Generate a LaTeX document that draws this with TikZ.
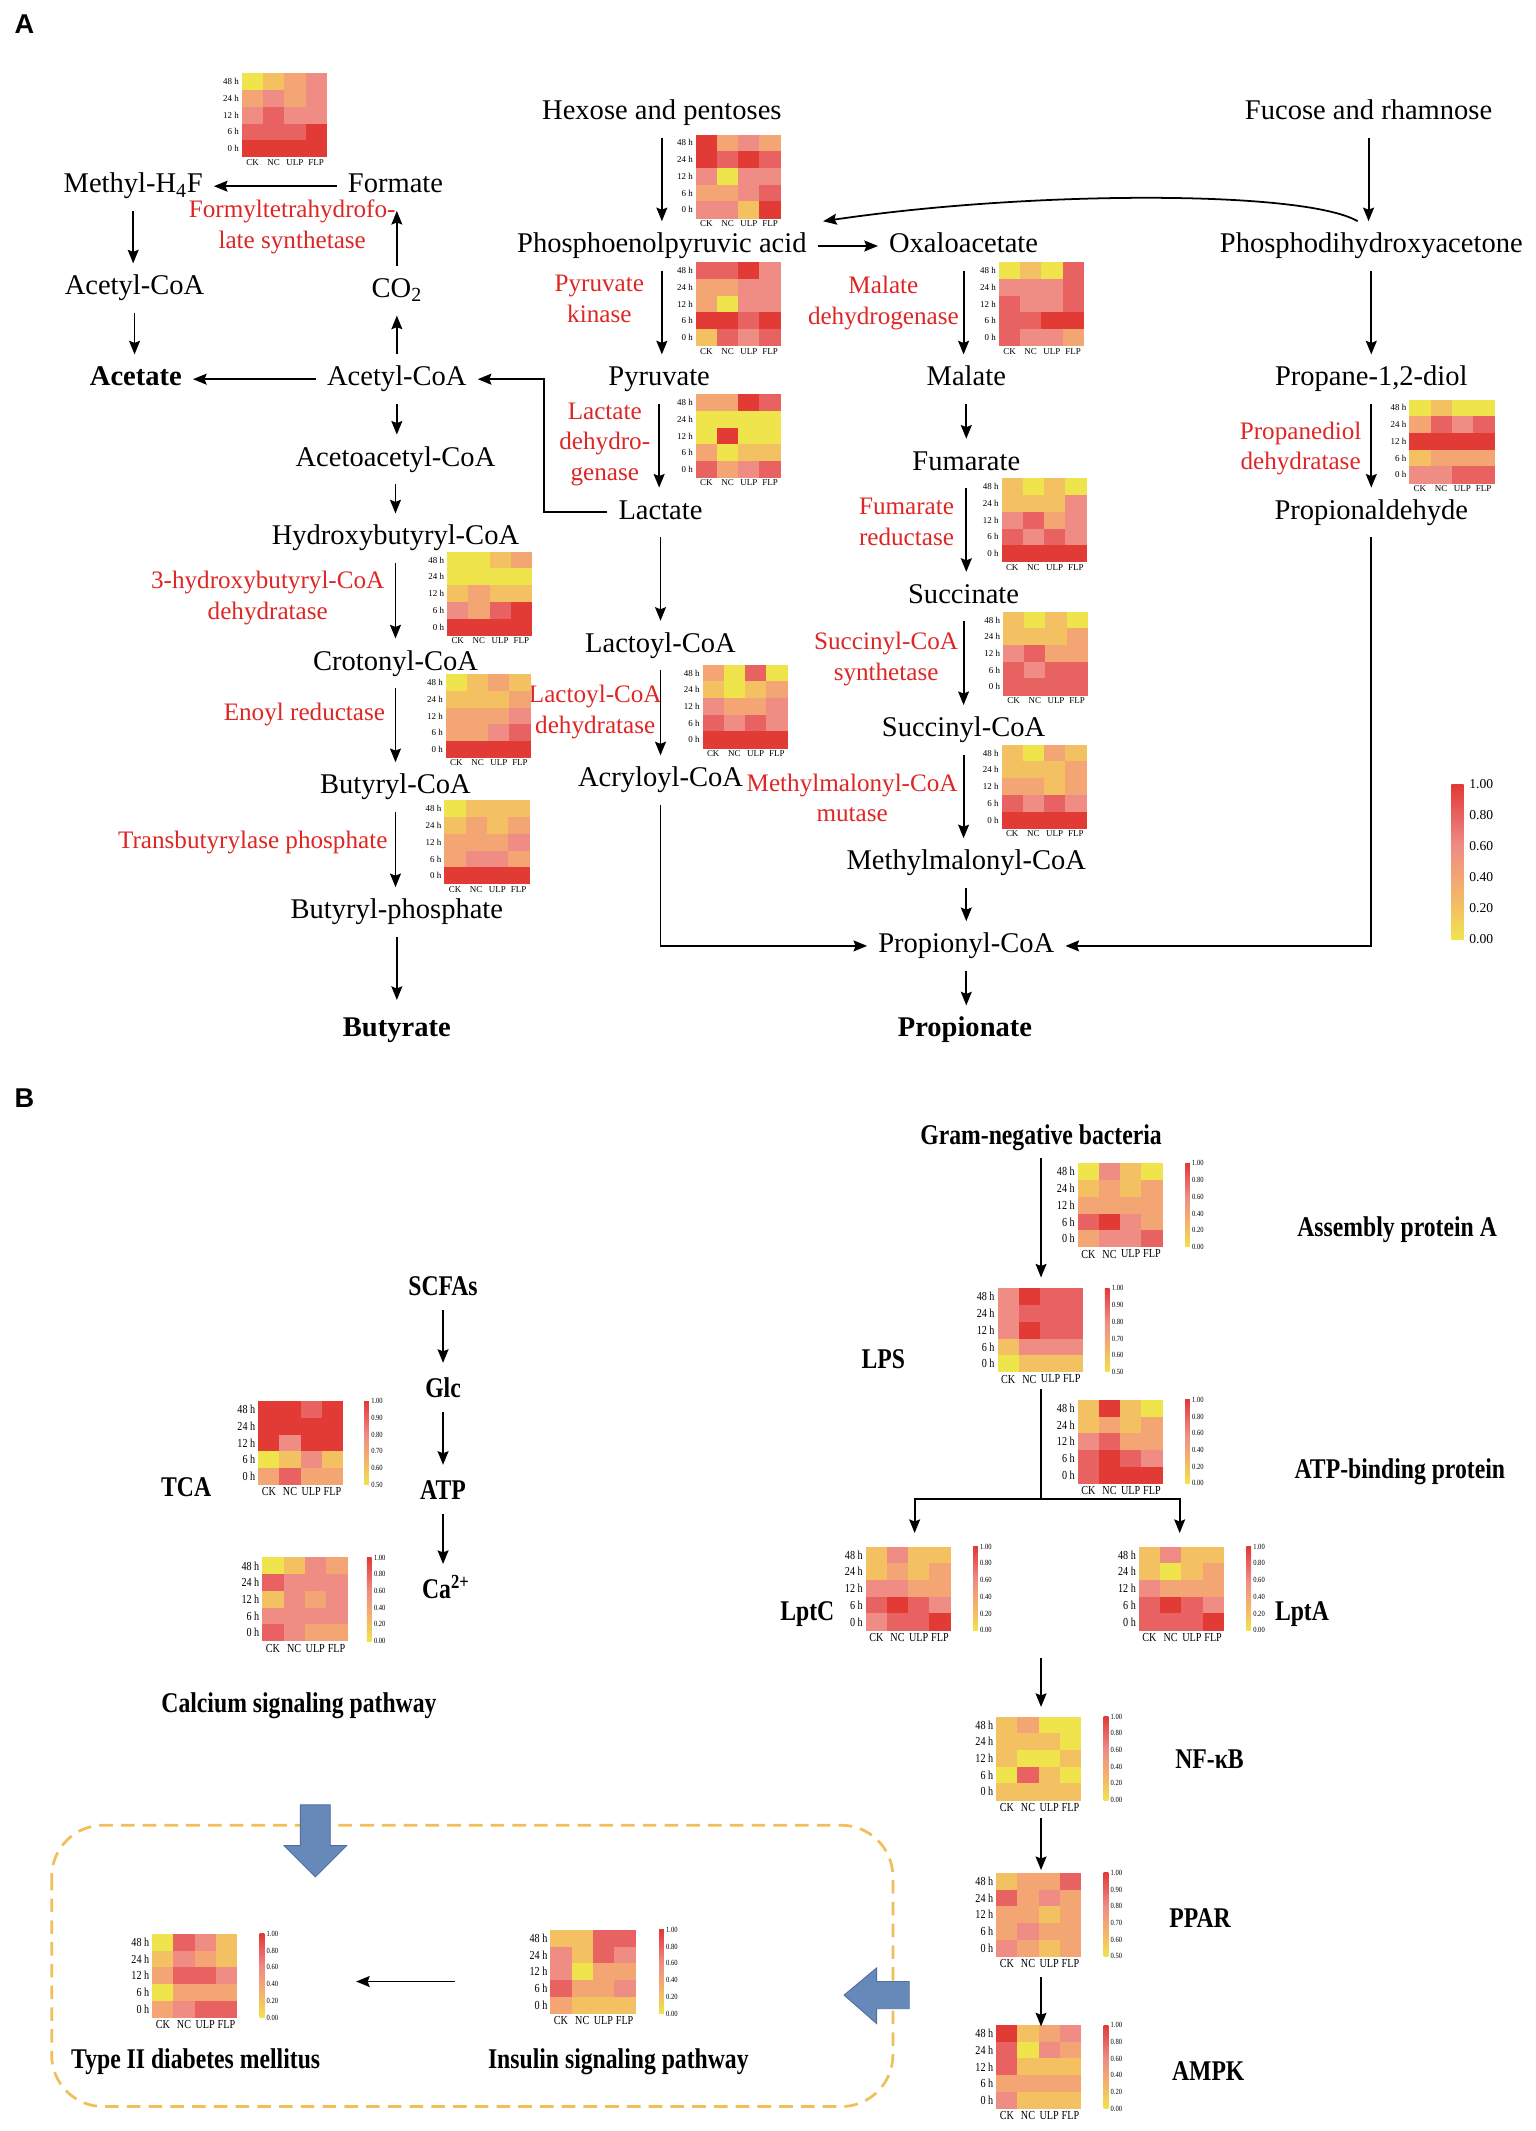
\documentclass[tikz,border=0pt]{standalone}
\usepackage{fontspec}
\setmainfont{Liberation Serif}
\newfontfamily\condfont[FakeStretch=0.83]{Liberation Serif}
\newfontfamily\labsans{Liberation Sans}
\usetikzlibrary{arrows.meta}

\definecolor{hm0}{RGB}{240,228,76}
\definecolor{hm1}{RGB}{243,193,98}
\definecolor{hm2}{RGB}{243,165,115}
\definecolor{hm3}{RGB}{239,140,132}
\definecolor{hm4}{RGB}{232,98,98}
\definecolor{hm5}{RGB}{226,58,52}
\definecolor{enzred}{RGB}{222,38,36}
\definecolor{boxorange}{RGB}{242,190,90}
\definecolor{blockblue}{RGB}{103,137,186}
\definecolor{blockedge}{RGB}{80,110,158}

\pgfdeclareverticalshading{heat}{100bp}{color(0bp)=(hm0); color(25bp)=(hm0); color(35bp)=(hm1); color(45bp)=(hm2); color(55bp)=(hm3); color(65bp)=(hm4); color(75bp)=(hm5); color(100bp)=(hm5)}

\newcommand{\hmw}{15.6}
\newcommand{\hmh}{12.3}

\newcommand{\heatmap}[4]{%
  \foreach \row [count=\r] in {#4} {
    \foreach \v [count=\c] in \row
      \fill[hm\v] ({#2+(\c-1)*\hmw},{#3+(\r-1)*\hmh}) rectangle +(\hmw+0.3,\hmh+0.3);
  }
  \foreach \t [count=\r] in {48 h,24 h,12 h,6 h,0 h}
    \node[rowlab] (#1-r\r) at ({#2-1},{#3+(\r-0.5)*\hmh}) {\t};
  \foreach \t [count=\c] in {CK,NC,ULP,FLP}
    \node[collab] (#1-c\c) at ({#2+(\c-0.5)*\hmw},{#3+5*\hmh}) {\t};
}

\newcommand{\cbar}[4]{%
  \shade[shading=heat] (#2,#3) rectangle ++(3.5,5*\hmh);
  \foreach \t [count=\i from 0] in {#4}
    \node[cblab] (#1-l\i) at ({#2+4.5},{#3+\i*\hmh}) {\t};
}

\tikzset{
  met/.style={font=\fontsize{21}{25}\selectfont, inner sep=2pt, text height=15pt, text depth=5pt, yshift=-2pt},
  prod/.style={met, font=\fontsize{21}{25}\selectfont\bfseries},
  enz/.style={text=enzred, font=\fontsize{18.5}{22.5}\selectfont, align=center, inner sep=1pt, yshift=-2pt},
  blab/.style={font=\condfont\fontsize{21}{25}\selectfont\bfseries, inner sep=2pt, text height=15pt, text depth=5pt, yshift=-2pt},
  arr/.style={-{Stealth[length=10pt,width=8pt,inset=1.5pt]}, line width=1.4pt, shorten <=6pt, shorten >=6pt},
  link/.style={-{Stealth[length=10pt,width=8pt,inset=1.5pt]}, line width=1.3pt},
  rowlab/.style={font=\fontsize{6.6}{7}\selectfont, anchor=east, inner sep=1pt},
  collab/.style={font=\fontsize{6.6}{7}\selectfont, anchor=north, inner sep=1.5pt},
  cblab/.style={font=\condfont\fontsize{5.8}{6}\selectfont, anchor=west, inner sep=0.5pt},
}

\begin{document}
\begin{tikzpicture}[x=1pt, y=-1pt]
\useasboundingbox (0,0) rectangle (1130,1568);

\node[font=\labsans\bfseries\fontsize{20}{24}\selectfont] (panelA) at (18,18) {A};
\node[font=\labsans\bfseries\fontsize{20}{24}\selectfont] (panelB) at (18,808) {B};

% panel A: acetate and butyrate
\node[met] (mthf) at (98,135) {Methyl-H\textsubscript{4}F};
\node[met] (form) at (291,135) {Formate};
\node[met] (acoa1) at (99,210) {Acetyl-CoA};
\node[met] (co2) at (292,212) {CO\textsubscript{2}};
\node[prod] (acet) at (100,277) {Acetate};
\node[met] (acoa) at (292,277) {Acetyl-CoA};
\node[met] (aacoa) at (291,336) {Acetoacetyl-CoA};
\node[met] (hbcoa) at (291,394) {Hydroxybutyryl-CoA};
\node[met] (ccoa) at (291,486) {Crotonyl-CoA};
\node[met] (bcoa) at (291,577) {Butyryl-CoA};
\node[met] (bp) at (292,669) {Butyryl-phosphate};
\node[prod] (butyr) at (292,756) {Butyrate};

\node[enz] (e-fts) at (215,165) {Formyltetrahydrofo-\\late synthetase};
\node[enz] (e-hbd) at (197,438) {3-hydroxybutyryl-CoA\\dehydratase};
\node[enz] (e-er) at (224,524) {Enoyl reductase};
\node[enz] (e-tbp) at (186,618) {Transbutyrylase phosphate};

\draw[arr] (form) -- (mthf);
\draw[arr] (mthf) -- (mthf |- acoa1.north);
\draw[arr] (acoa1) -- (acoa1 |- acet.north);
\draw[arr] (co2) -- (co2 |- form.south);
\draw[arr] (acoa) -- (acoa |- co2.south);
\draw[arr] (acoa) -- (acet);
\draw[arr] (acoa) -- (acoa |- aacoa.north);
\draw[arr] (aacoa) -- (aacoa |- hbcoa.north);
\draw[arr] (hbcoa) -- (hbcoa |- ccoa.north);
\draw[arr] (ccoa) -- (ccoa |- bcoa.north);
\draw[arr] (bcoa) -- (bcoa |- bp.north);
\draw[arr, shorten >=10pt] (bp) -- (bp |- butyr.north);

% panel A: propionate
\node[met] (hex) at (487,81) {Hexose and pentoses};
\node[met] (pep) at (487,179) {Phosphoenolpyruvic acid};
\node[met] (oxa) at (709,179) {Oxaloacetate};
\node[met] (pyr) at (485,277) {Pyruvate};
\node[met] (lac) at (486,375) {Lactate};
\node[met] (lcoa) at (486,473) {Lactoyl-CoA};
\node[met] (acry) at (486,572) {Acryloyl-CoA};
\node[met] (mal) at (711,277) {Malate};
\node[met] (fum) at (711,339) {Fumarate};
\node[met] (suc) at (709,437) {Succinate};
\node[met] (scoa) at (709,535) {Succinyl-CoA};
\node[met] (mmcoa) at (711,633) {Methylmalonyl-CoA};
\node[met] (pcoa) at (711,694) {Propionyl-CoA};
\node[prod] (propn) at (710,756) {Propionate};
\node[met] (fuc) at (1007,81) {Fucose and rhamnose};
\node[met] (phd) at (1009,179) {Phosphodihydroxyacetone};
\node[met] (pdiol) at (1009,277) {Propane-1,2-diol};
\node[met] (pald) at (1009,375) {Propionaldehyde};

\node[enz] (e-pk) at (441,218) {Pyruvate\\kinase};
\node[enz] (e-ldh) at (445,325) {Lactate\\dehydro-\\genase};
\node[enz] (e-lcd) at (438,522) {Lactoyl-CoA\\dehydratase};
\node[enz] (e-mdh) at (650,221) {Malate\\dehydrogenase};
\node[enz] (e-fr) at (667,382) {Fumarate\\reductase};
\node[enz] (e-scs) at (652,483) {Succinyl-CoA\\synthetase};
\node[enz] (e-mcm) at (627,585) {Methylmalonyl-CoA\\mutase};
\node[enz] (e-pdd) at (957,328) {Propanediol\\dehydratase};

\coordinate (lbend) at (400,377);
\draw[arr] (hex) -- (hex |- pep.north);
\draw[arr] (pep) -- (pep |- pyr.north);
\draw[arr] (pyr) -- (pyr |- lac.north);
\draw[arr] (lac) -- (lac |- lcoa.north);
\draw[arr] (lcoa) -- (lcoa |- acry.north);
\draw[arr] (pep) -- (oxa);
\draw[arr] (oxa) -- (oxa |- mal.north);
\draw[arr] (mal) -- (mal |- fum.north);
\draw[arr] (fum) -- (fum |- suc.north);
\draw[arr] (suc) -- (suc |- scoa.north);
\draw[arr] (scoa) -- (scoa |- mmcoa.north);
\draw[arr] (mmcoa) -- (mmcoa |- pcoa.north);
\draw[arr] (pcoa) -- (pcoa |- propn.north);
\draw[arr] (fuc) -- (fuc |- phd.north);
\draw[arr] (phd) -- (phd |- pdiol.north);
\draw[arr] (pdiol) -- (pdiol |- pald.north);
\draw[arr] (lac.west) -- (lbend) |- (acoa.east);
\draw[arr] (acry.south) |- (pcoa.west);
\draw[arr] (pald.south) |- (pcoa.east);
\draw[link] ([xshift=-10pt,yshift=6pt]phd.north) .. controls (960,140) and (760,140) .. ([xshift=10pt,yshift=6pt]pep.north east);

\heatmap{fts}{178}{54}{{0,1,2,3},{2,3,2,3},{3,4,3,3},{4,4,4,5},{5,5,5,5}}
\heatmap{hbd}{329}{406}{{0,0,1,2},{0,0,0,0},{1,2,1,1},{3,2,4,5},{5,5,5,5}}
\heatmap{er}{328}{496}{{0,1,2,1},{1,1,1,2},{2,2,2,3},{2,2,3,4},{5,5,5,5}}
\heatmap{tbp}{327}{589}{{0,1,1,1},{1,2,1,2},{2,2,2,3},{2,3,3,2},{5,5,5,5}}
\heatmap{hexp}{512}{99}{{5,2,3,2},{5,4,5,4},{3,0,3,3},{2,2,3,4},{3,3,1,5}}
\heatmap{pk}{512}{193}{{4,4,5,3},{2,2,3,3},{2,0,3,3},{5,5,4,5},{1,4,3,4}}
\heatmap{ldh}{512}{290}{{2,2,5,4},{0,0,0,0},{0,5,0,0},{2,0,1,1},{4,2,3,4}}
\heatmap{lcd}{517}{489}{{2,0,4,0},{1,0,1,2},{3,2,2,3},{4,3,4,3},{5,5,5,5}}
\heatmap{mdh}{735}{193}{{0,1,0,4},{3,3,3,4},{4,3,3,4},{4,4,5,5},{4,3,3,2}}
\heatmap{fr}{737}{352}{{1,0,1,0},{1,1,1,3},{3,4,2,3},{4,3,4,3},{5,5,5,5}}
\heatmap{scs}{738}{450}{{1,0,1,0},{1,1,1,2},{3,4,2,2},{4,3,4,4},{4,4,4,4}}
\heatmap{mcm}{737}{548}{{1,0,2,1},{1,1,1,2},{2,2,1,2},{4,3,4,3},{5,5,5,5}}
\heatmap{pdd}{1037}{294}{{0,1,0,0},{2,4,3,4},{5,5,5,5},{1,2,2,2},{3,3,4,4}}

\shade[shading=heat] (1068,577) rectangle (1077,691);
\foreach \t [count=\i from 0] in {1.00,0.80,0.60,0.40,0.20,0.00}
  \node[font=\fontsize{10}{12}\selectfont, anchor=west, inner sep=1pt] (scale-\i) at (1080,{577+\i*22.8}) {\t};

% panel B
\node[blab] (gram) at (766,835) {Gram-negative bacteria};
\node[blab] (asma) at (1028,903) {Assembly protein A};
\node[blab] (lps) at (650,1000) {LPS};
\node[blab] (atpb) at (1030,1081) {ATP-binding protein};
\node[blab] (lptc) at (594,1185) {LptC};
\node[blab] (lpta) at (958,1185) {LptA};
\node[blab] (nfkb) at (890,1294) {NF-κB};
\node[blab] (ppar) at (883,1411) {PPAR};
\node[blab] (ampk) at (889,1524) {AMPK};
\node[blab] (scfa) at (326,946) {SCFAs};
\node[blab] (glc) at (326,1021) {Glc};
\node[blab] (atp) at (326,1096) {ATP};
\node[blab] (ca) at (328,1169) {Ca\textsuperscript{2+}};
\node[blab] (tca) at (137,1094) {TCA};
\node[blab] (calc) at (220,1253) {Calcium signaling pathway};
\node[blab] (t2d) at (144,1515) {Type II diabetes mellitus};
\node[blab] (insp) at (455,1515) {Insulin signaling pathway};

\begin{scope}[rowlab/.style={font=\condfont\fontsize{9}{10}\selectfont, anchor=east, inner sep=1pt},
  collab/.style={font=\condfont\fontsize{9}{10}\selectfont, anchor=north, inner sep=2pt}]
\heatmap{apa}{793}{856}{{0,3,1,0},{1,2,1,2},{2,2,2,2},{4,5,3,2},{2,3,3,4}}
\heatmap{lpsm}{734}{948}{{3,5,4,4},{3,4,4,4},{3,5,4,4},{1,3,3,3},{0,1,1,1}}
\heatmap{atpm}{793}{1030}{{1,5,1,0},{1,2,1,2},{3,4,2,2},{4,5,4,3},{4,5,5,5}}
\heatmap{lptcm}{637}{1138}{{1,3,1,1},{1,2,1,2},{3,3,2,2},{4,5,4,3},{3,4,4,5}}
\heatmap{lptam}{838}{1138}{{1,3,1,1},{1,0,1,2},{3,2,2,2},{4,5,4,3},{4,4,4,5}}
\heatmap{nfkbm}{733}{1263}{{1,2,0,0},{1,1,1,0},{1,0,0,1},{0,4,1,0},{1,1,1,1}}
\heatmap{pparm}{733}{1378}{{1,2,2,4},{4,2,3,2},{2,2,1,2},{2,3,2,2},{3,2,1,2}}
\heatmap{ampkm}{733}{1490}{{5,1,2,3},{4,0,3,2},{4,1,1,1},{2,2,2,2},{3,1,1,1}}
\heatmap{tcam}{190}{1031}{{5,5,4,5},{5,5,5,5},{5,3,5,5},{0,1,3,1},{2,4,2,2}}
\heatmap{calm}{193}{1146}{{0,1,3,2},{4,3,3,3},{1,3,2,3},{3,3,3,3},{4,3,2,2}}
\heatmap{t2dm}{112}{1423}{{0,4,3,1},{1,3,2,1},{2,4,4,3},{0,2,2,2},{2,3,4,4}}
\heatmap{insm}{405}{1420}{{1,1,4,4},{3,1,4,3},{3,0,2,2},{4,2,2,3},{2,1,1,1}}
\end{scope}

\cbar{apa}{872}{856}{1.00,0.80,0.60,0.40,0.20,0.00}
\cbar{lpsm}{813}{948}{1.00,0.90,0.80,0.70,0.60,0.50}
\cbar{atpm}{872}{1030}{1.00,0.80,0.60,0.40,0.20,0.00}
\cbar{lptcm}{716}{1138}{1.00,0.80,0.60,0.40,0.20,0.00}
\cbar{lptam}{917}{1138}{1.00,0.80,0.60,0.40,0.20,0.00}
\cbar{nfkbm}{812}{1263}{1.00,0.80,0.60,0.40,0.20,0.00}
\cbar{pparm}{812}{1378}{1.00,0.90,0.80,0.70,0.60,0.50}
\cbar{ampkm}{812}{1490}{1.00,0.80,0.60,0.40,0.20,0.00}
\cbar{tcam}{268}{1031}{1.00,0.90,0.80,0.70,0.60,0.50}
\cbar{calm}{270}{1146}{1.00,0.80,0.60,0.40,0.20,0.00}
\cbar{t2dm}{191}{1423}{1.00,0.80,0.60,0.40,0.20,0.00}
\cbar{insm}{485}{1420}{1.00,0.80,0.60,0.40,0.20,0.00}

\coordinate (lpsTop) at (766,940);
\coordinate (lpsBot) at (766,1022);
\coordinate (split) at (766,1103);
\coordinate (lptcTop) at (673,1128);
\coordinate (lptaTop) at (868,1128);
\coordinate (lptOut) at (766,1220);
\coordinate (nfkbTop) at (766,1256);
\coordinate (nfkbBot) at (766,1338);
\coordinate (pparTop) at (766,1376);
\coordinate (pparBot) at (766,1455);
\coordinate (ampkTop) at (766,1491);
\coordinate (insW) at (335,1458);
\coordinate (t2dE) at (262,1458);

\draw[link, shorten <=3pt] (gram) -- (lpsTop);
\draw[line width=1.2pt] (lpsBot) -- (split);
\draw[link] (split) -| (lptcTop);
\draw[link] (split) -| (lptaTop);
\draw[link] (lptOut) -- (nfkbTop);
\draw[link] (nfkbBot) -- (pparTop);
\draw[link] (pparBot) -- (ampkTop);
\draw[arr, shorten <=4pt, shorten >=8pt] (scfa) -- (scfa |- glc.north);
\draw[arr, shorten <=4pt, shorten >=8pt] (glc) -- (glc |- atp.north);
\draw[arr, shorten <=4pt, shorten >=8pt] (atp) -- (atp |- ca.north);
\draw[link] (insW) -- (t2dE);

\draw[boxorange, line width=2pt, dash pattern=on 10pt off 6pt, rounded corners=38pt] (38,1343) rectangle (657,1550);
\filldraw[fill=blockblue, draw=blockedge, line width=0.6pt] (221,1328) -- (243,1328) -- (243,1358) -- (255,1358) -- (232,1381) -- (209,1358) -- (221,1358) -- cycle;
\filldraw[fill=blockblue, draw=blockedge, line width=0.6pt] (669,1458) -- (669,1478) -- (645,1478) -- (645,1489) -- (621,1468) -- (645,1448) -- (645,1458) -- cycle;
\end{tikzpicture}
\end{document}
